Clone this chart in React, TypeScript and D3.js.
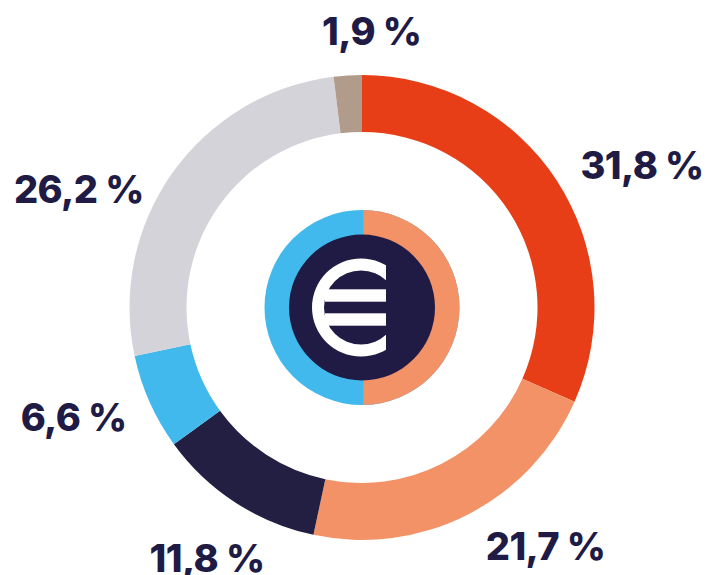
import React from "react";
import * as d3 from "d3";

const shares = [31.65, 21.7, 11.65, 6.65, 26.4, 1.95];
const labels = ["31,8 %", "21,7 %", "11,8 %", "6,6 %", "26,2 %", "1,9 %"];
const colors = ["#E73E17", "#F29266", "#231F42", "#41B9ED", "#D3D3D9", "#B19C8C"];
const labelPos: [number, number][] = [[642, 178.5], [545.5, 559.5], [207, 571.5], [73.6, 431], [78.8, 203.3], [371.7, 45]];
const innerColors = ["#F29266", "#41B9ED"];

const W = 707, H = 575, cx = 362, cy = 307.5;

export default function App() {
  const pie = d3.pie<number>().sort(null).value(d => d);
  const ring = d3.arc<d3.PieArcDatum<number>>().innerRadius(175.5).outerRadius(232.5);
  const innerRing = d3.arc().innerRadius(72).outerRadius(97.5);
  const euroArc = d3.arc()({ innerRadius: 37, outerRadius: 49, startAngle: 0, endAngle: 2 * Math.PI }) as string;
  const full = innerRing({ startAngle: 0, endAngle: 2 * Math.PI } as any) as string;
  return (
    <svg width={W} height={H} viewBox={`0 0 ${W} ${H}`} style={{ position: "absolute", left: 0, top: 0, background: "#fff" }}>
      <defs>
        <clipPath id="euroClip"><rect x={300} y={250} width={86} height={115} /></clipPath>
        <clipPath id="rightClip"><rect x={363.3} y={200} width={110} height={215} /></clipPath>
      </defs>
      <g transform={`translate(${cx},${cy})`}>
        {pie(shares).map((d, i) => <path key={i} d={ring(d) as string} fill={colors[i]} />)}
      </g>
      <path d={full} transform={`translate(${cx},${cy})`} fill={innerColors[1]} />
      <g clipPath="url(#rightClip)">
        <path d={full} transform={`translate(${cx},${cy})`} fill={innerColors[0]} />
      </g>
      <circle cx={cx} cy={cy} r={73} fill="#201B45" />
      <g clipPath="url(#euroClip)" fill="#fff">
        <path d={euroArc} transform={`translate(361,${cy})`} />
        <rect x={325} y={289.3} width={61} height={12.4} />
        <rect x={325} y={313.3} width={61} height={12.4} />
      </g>
      {labels.map((t, i) => (
        <text key={i} x={labelPos[i][0]} y={labelPos[i][1]} textAnchor="middle"
          fontFamily="Inter, sans-serif" fontWeight={800} fontSize={38} letterSpacing={-0.6} fill="#201B45">{t}</text>
      ))}
    </svg>
  );
}
